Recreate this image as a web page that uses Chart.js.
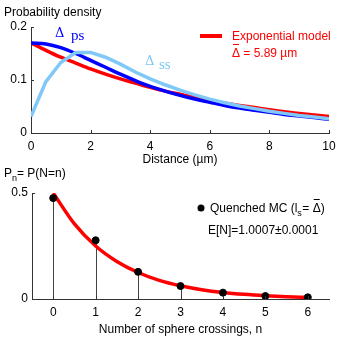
<!DOCTYPE html>
<html>
<head>
<meta charset="utf-8">
<script src="https://cdn.jsdelivr.net/npm/chart.js@4.4.1/dist/chart.umd.min.js"></script>
<style>
body { margin: 0; background: #fff; }
#wrap { position: relative; width: 342px; height: 339px; }
#c1 { position: absolute; left: 0; top: 0; }
#c2 { position: absolute; left: 0; top: 165px; }
</style>
</head>
<body>
<div id="wrap">
<canvas id="c1" width="342" height="169"></canvas>
<canvas id="c2" width="342" height="174"></canvas>
</div>
<script>
// top panel: distance distributions
var distance = [0, 0.5, 1, 1.5, 2, 2.5, 3, 3.5, 4, 4.5, 5, 5.5, 6, 6.5, 7, 7.5, 8, 8.5, 9, 9.5, 10];
var deltaPs = [0.170, 0.168, 0.161, 0.150, 0.137, 0.124, 0.111, 0.099, 0.088, 0.079, 0.071, 0.064, 0.058, 0.052, 0.047, 0.043, 0.039, 0.035, 0.032, 0.029, 0.026];
var deltaSs = [0.031, 0.097, 0.133, 0.152, 0.152, 0.143, 0.130, 0.115, 0.102, 0.091, 0.081, 0.072, 0.064, 0.057, 0.051, 0.046, 0.041, 0.037, 0.033, 0.030, 0.027];
var expModel = [0.170, 0.156, 0.143, 0.132, 0.121, 0.111, 0.102, 0.094, 0.086, 0.079, 0.073, 0.067, 0.061, 0.056, 0.052, 0.048, 0.044, 0.040, 0.037, 0.034, 0.031];
var topXTicks = [0, 2, 4, 6, 8, 10];
var topYTicks = [0, 0.1, 0.2];

// bottom panel: crossings
var crossings = [0, 1, 2, 3, 4, 5, 6];
var pQuenched = [0.476, 0.277, 0.128, 0.061, 0.030, 0.014, 0.008];
var curveN = [0, 0.5, 1, 1.5, 2, 2.5, 3, 3.5, 4, 4.5, 5, 5.5, 6];
var curveP = [0.500, 0.354, 0.250, 0.177, 0.125, 0.088, 0.0625, 0.044, 0.031, 0.022, 0.0156, 0.011, 0.0078];
var botYTicks = [0, 0.5];

var FONT = "'Liberation Sans', Arial, sans-serif";
Chart.defaults.font.family = FONT;
Chart.defaults.font.size = 12;
Chart.defaults.color = '#000';
Chart.defaults.animation = false;

function pts(xs, ys) {
	return xs.map((x, i) => ({x: x, y: ys[i]}));
}

// short ticks drawn inside the plot, like the original
var innerTicks = {
	id: 'innerTicks',
	afterDatasetsDraw(chart) {
		var ctx = chart.ctx, a = chart.chartArea;
		ctx.save();
		ctx.strokeStyle = '#333';
		ctx.lineWidth = 1;
		chart.scales.x.ticks.forEach(t => {
			var px = Math.round(chart.scales.x.getPixelForValue(t.value)) + 0.5;
			ctx.beginPath(); ctx.moveTo(px, a.bottom); ctx.lineTo(px, a.bottom - 3); ctx.stroke();
		});
		chart.scales.y.ticks.forEach(t => {
			var py = Math.round(chart.scales.y.getPixelForValue(t.value)) + 0.5;
			ctx.beginPath(); ctx.moveTo(a.left, py); ctx.lineTo(a.left + 3, py); ctx.stroke();
		});
		ctx.restore();
	}
};

var topText = {
	id: 'topText',
	afterDraw(chart) {
		var ctx = chart.ctx;
		ctx.save();
		ctx.textBaseline = 'alphabetic';
		ctx.font = '12px ' + FONT;
		ctx.fillStyle = '#000';
		ctx.fillText('Probability density', 4, 16);
		ctx.font = '13px "DejaVu Serif", serif';
		ctx.fillStyle = '#0000ff';
		ctx.fillText('\u0394', 55, 37);
		ctx.font = '15px "Liberation Serif", serif';
		ctx.fillText('ps', 71, 40);
		ctx.font = '13px "DejaVu Serif", serif';
		ctx.fillStyle = '#80c8f8';
		ctx.fillText('\u0394', 145, 65);
		ctx.font = '15px "Liberation Serif", serif';
		ctx.fillText('ss', 159, 69);
		// legend
		ctx.strokeStyle = '#ff0000';
		ctx.lineWidth = 4;
		ctx.beginPath(); ctx.moveTo(200, 36); ctx.lineTo(222, 36); ctx.stroke();
		ctx.font = '12px ' + FONT;
		ctx.fillStyle = '#ff0000';
		ctx.fillText('Exponential model', 232, 40);
		ctx.fillText('\u0394', 232, 57);
		ctx.fillRect(233, 44, 6, 1);
		ctx.fillText(' = 5.89 \u00b5m', 240, 57);
		ctx.restore();
	}
};

var botText = {
	id: 'botText',
	afterDraw(chart) {
		var ctx = chart.ctx;
		ctx.save();
		ctx.textBaseline = 'alphabetic';
		ctx.fillStyle = '#000';
		ctx.font = '12px ' + FONT;
		ctx.fillText('P', 4, 12);
		ctx.font = '9px ' + FONT;
		ctx.fillText('n', 12, 16);
		ctx.font = '12px ' + FONT;
		ctx.fillText('= P(N=n)', 17, 12);
		// legend
		ctx.beginPath(); ctx.arc(201, 43, 3.5, 0, Math.PI * 2); ctx.fill();
		ctx.fillText('Quenched MC (l', 210, 47);
		var w = ctx.measureText('Quenched MC (l').width;
		ctx.font = '9px ' + FONT;
		ctx.fillText('s', 210 + w, 51);
		ctx.font = '12px ' + FONT;
		ctx.fillText('= ', 215 + w, 47);
		var w2 = ctx.measureText('= ').width;
		ctx.fillText('\u0394', 215 + w + w2, 47);
		ctx.fillRect(216 + w + w2, 34, 6, 1);
		ctx.fillText(')', 223 + w + w2, 47);
		ctx.fillText('E[N]=1.0007\u00b10.0001', 208, 69);
		ctx.restore();
	}
};

function axisBorder() {
	return {display: true, color: '#333', width: 1};
}

new Chart(document.getElementById('c1'), {
	type: 'line',
	data: {
		datasets: [
			{ data: pts(distance, deltaSs), borderColor: '#80c8f8', borderWidth: 3.5, pointRadius: 0, tension: 0, fill: false },
			{ data: pts(distance, deltaPs), borderColor: '#0000ff', borderWidth: 3.5, pointRadius: 0, tension: 0.4, cubicInterpolationMode: 'monotone', fill: false },
			{ data: pts(distance, expModel), borderColor: '#ff0000', borderWidth: 3.5, pointRadius: 0, tension: 0.4, cubicInterpolationMode: 'monotone', fill: false }
		]
	},
	options: {
		responsive: false,
		layout: { padding: { top: 27, right: 13, left: 0, bottom: 0 } },
		plugins: { legend: { display: false }, tooltip: { enabled: false } },
		scales: {
			x: {
				type: 'linear', min: 0, max: 10,
				afterBuildTicks: s => { s.ticks = topXTicks.map(v => ({value: v})); },
				afterFit: s => { s.height = 36; },
				grid: { display: false, drawTicks: false },
				border: axisBorder(),
				ticks: { padding: 6, maxRotation: 0, callback: v => String(v) },
				title: { display: true, text: 'Distance (\u00b5m)', padding: { top: 0, bottom: 2 } }
			},
			y: {
				min: 0, max: 0.2,
				afterBuildTicks: s => { s.ticks = topYTicks.map(v => ({value: v})); },
				afterFit: s => { s.width = 31; },
				grid: { display: false, drawTicks: false },
				border: axisBorder(),
				ticks: { padding: 4, callback: v => String(v) }
			}
		}
	},
	plugins: [innerTicks, topText]
});

new Chart(document.getElementById('c2'), {
	type: 'scatter',
	data: {
		datasets: [
			{ type: 'line', data: pts(curveN, curveP), borderColor: '#ff0000', borderWidth: 3.5, pointRadius: 0, tension: 0.4, cubicInterpolationMode: 'monotone', fill: false, order: 2 },
			{ data: pts(crossings, pQuenched), backgroundColor: '#000', borderColor: '#000', pointRadius: 3.5, order: 1 }
		]
	},
	options: {
		responsive: false,
		layout: { padding: { top: 28, right: 13, left: 0, bottom: 0 } },
		plugins: { legend: { display: false }, tooltip: { enabled: false } },
		scales: {
			x: {
				type: 'linear', min: -0.5, max: 6.5,
				afterBuildTicks: s => { s.ticks = crossings.map(v => ({value: v})); },
				afterFit: s => { s.height = 40; },
				grid: { display: false, drawTicks: false },
				border: axisBorder(),
				ticks: { padding: 6, maxRotation: 0, callback: v => String(v) },
				title: { display: true, text: 'Number of sphere crossings, n', padding: { top: 0, bottom: 2 } }
			},
			y: {
				min: 0, max: 0.5,
				afterBuildTicks: s => { s.ticks = botYTicks.map(v => ({value: v})); },
				afterFit: s => { s.width = 32; },
				grid: { display: false, drawTicks: false },
				border: axisBorder(),
				ticks: { padding: 4, callback: v => String(v) }
			}
		}
	},
	plugins: [innerTicks, botText, {
		id: 'stems',
		beforeDatasetsDraw(chart) {
			var ctx = chart.ctx, xs = chart.scales.x, ys = chart.scales.y;
			ctx.save();
			ctx.strokeStyle = '#444';
			ctx.lineWidth = 1;
			crossings.forEach((n, i) => {
				var px = Math.round(xs.getPixelForValue(n)) + 0.5;
				ctx.beginPath();
				ctx.moveTo(px, ys.getPixelForValue(0));
				ctx.lineTo(px, ys.getPixelForValue(pQuenched[i]));
				ctx.stroke();
			});
			ctx.restore();
		}
	}]
});
</script>
</body>
</html>
